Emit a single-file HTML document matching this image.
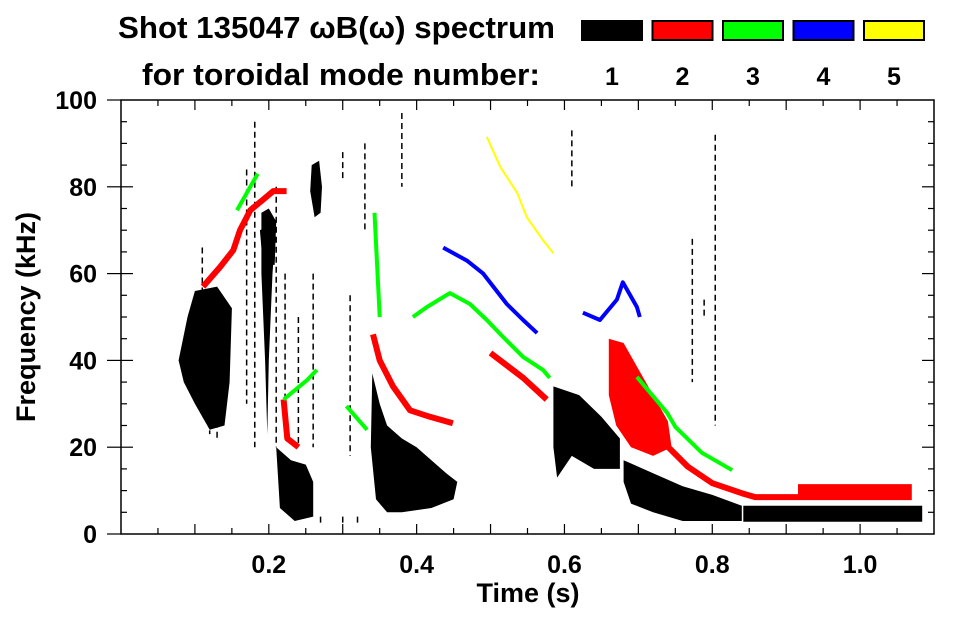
<!DOCTYPE html>
<html><head><meta charset="utf-8"><style>
body{margin:0;background:#fff;width:963px;height:615px;overflow:hidden}
svg{font-family:"Liberation Sans",sans-serif;font-weight:bold}
</style></head><body>
<svg id="c" width="963" height="615" viewBox="0 0 963 615">
<text x="118" y="38" font-size="31" textLength="437" lengthAdjust="spacingAndGlyphs">Shot 135047 ωB(ω) spectrum</text>
<text x="142" y="85" font-size="31" textLength="398" lengthAdjust="spacingAndGlyphs">for toroidal mode number:</text>
<g id="legend"></g>
<g id="plot"></g>
<g id="axes"></g>
<text x="528" y="602" font-size="27" text-anchor="middle">Time (s)</text>
<text transform="translate(35,317) rotate(-90)" font-size="27" text-anchor="middle">Frequency (kHz)</text>
</svg>
<script>
const modes=['1','2','3','4','5'];
const modeColors=['#000','#f00','#0f0','#00f','#ff0'];
const xTicks=[0.2,0.4,0.6,0.8,1.0];
const xTickLabels=['0.2','0.4','0.6','0.8','1.0'];
const yTicks=[0,20,40,60,80,100];
const yTickLabels=['0','20','40','60','80','100'];
// black (n=1) regions as [time, kHz] outlines
const blackBlobs=[
[[.078,40],[.09,50],[.1,56],[.13,57],[.15,52],[.147,35],[.14,25],[.12,24],[.1,30],[.085,35]],
[[.19,74],[.2,75],[.21,72],[.205,60],[.2,40],[.198,23],[.195,40],[.19,60]],
[[.188,70],[.21,72],[.208,62],[.192,62]],
[[.21,20],[.23,17],[.25,16],[.26,12],[.26,4],[.235,3],[.215,6]],
[[.258,85],[.268,86],[.272,80],[.27,74],[.262,73],[.256,79]],
[[.34,37],[.35,30],[.36,25],[.38,22],[.40,20],[.42,17],[.44,14],[.455,12],[.45,8],[.42,6],[.38,5],[.36,5],[.345,8],[.338,20]],
[[.585,34],[.62,32],[.65,27],[.675,22],[.675,15],[.64,15],[.61,18],[.59,13],[.585,20]],
[[.68,17],[.72,14],[.76,11],[.8,9],[.84,6.5],[.84,3],[.8,3],[.76,3],[.72,5],[.69,7],[.68,12]],
[[.842,6.5],[1.084,6.5],[1.084,2.8],[.842,2.8]]
];
// thin black streaks: [time, fTop, fBottom]
const blackStreaks=[[.181,95,20],[.61,93,80],[.804,92,25],[.773,68,35],[.789,54,50],[.17,84,30],[.21,80,20],[.222,60,25],[.24,50,20],[.26,60,20],[.31,55,18],[.33,90,70],[.38,97,80],[.30,88,82],[.12,40,23],[.13,42,22],[.11,66,56],[.27,4,2],[.3,4,2.5],[.32,4,2.5]];
const redBlobs=[
[[.66,45],[.68,44],[.70,38],[.72,32],[.74,26],[.745,20],[.72,18],[.69,20],[.67,25],[.66,32]],
[[.916,11.5],[1.07,11.5],[1.07,7.8],[.916,7.8]]
];
const redRidges=[
[[.111,57],[.134,61.5],[.152,65.4],[.161,70],[.175,74.6],[.192,77],[.206,79],[.224,79]],
[[.341,46],[.35,40],[.368,34],[.391,28.5],[.418,27],[.449,25.5]],
[[.22,31],[.225,22],[.24,20]],
[[.5,41.7],[.544,36],[.576,31]],
[[.723,23],[.767,15.5],[.8,11.7],[.84,9.4],[.858,8.5],[.916,8.5]]
];
const greenRidges=[
[[.157,74.6],[.175,80],[.185,83]],
[[.22,31],[.252,35.5],[.265,37.8]],
[[.305,29.5],[.333,24]],
[[.343,74],[.35,50]],
[[.395,50],[.414,52.3],[.445,55.5],[.472,53],[.495,49.3],[.517,45.4],[.544,40.8],[.571,37.8],[.58,36]],
[[.698,36.2],[.739,27.9],[.75,24.7],[.786,18.7],[.827,14.7]]
];
const blueRidges=[
[[.436,66],[.468,63],[.49,60],[.522,53],[.544,49.3],[.563,46.3]],
[[.625,51],[.648,49.3],[.671,54],[.679,58],[.698,52.3],[.702,50]]
];
const yellowRidges=[
[[.495,91.5],[.513,84.6],[.536,78.6],[.549,73],[.571,67.7],[.585,64.7]]
];
const X0=121,X1=934,Y0=534,Y1=100,TMAX=1.1,FMAX=100;
const sx=t=>X0+t/TMAX*(X1-X0);
const sy=f=>Y0-f/FMAX*(Y0-Y1);
const NS='http://www.w3.org/2000/svg';
function mk(tag,parent){const e=document.createElementNS(NS,tag);parent.appendChild(e);return e;}
const plot=document.getElementById('plot'),axes=document.getElementById('axes'),leg=document.getElementById('legend');
const pts=a=>a.map(p=>sx(p[0]).toFixed(1)+','+sy(p[1]).toFixed(1)).join(' ');
blackBlobs.forEach(b=>{const e=mk('polygon',plot);e.setAttribute('points',pts(b));e.setAttribute('fill','#000');

});
blackStreaks.forEach(s=>{const e=mk('line',plot);e.setAttribute('x1',sx(s[0]));e.setAttribute('x2',sx(s[0]));e.setAttribute('y1',sy(s[1]));e.setAttribute('y2',sy(s[2]));e.setAttribute('stroke','#000');e.setAttribute('stroke-width','1.5');e.setAttribute('stroke-dasharray','6 4');

});
redBlobs.forEach(b=>{const e=mk('polygon',plot);e.setAttribute('points',pts(b));e.setAttribute('fill','#f00');

});
function ridges(list,col,w,name){list.forEach(r=>{const e=mk('polyline',plot);e.setAttribute('points',pts(r));e.setAttribute('fill','none');e.setAttribute('stroke',col);e.setAttribute('stroke-width',w);e.setAttribute('stroke-linejoin','round');

});}
ridges(redRidges,'#f00',6,'mode-2-ridge');
ridges(greenRidges,'#0f0',4,'mode-3-ridge');
ridges(blueRidges,'#00f',4,'mode-4-ridge');
ridges(yellowRidges,'#ff0',2,'mode-5-ridge');
// frame
const fr=mk('rect',axes);fr.setAttribute('x',X0);fr.setAttribute('y',Y1);fr.setAttribute('width',X1-X0);fr.setAttribute('height',Y0-Y1);fr.setAttribute('fill','none');fr.setAttribute('stroke','#000');fr.setAttribute('stroke-width','1.5');


function tick(x1,y1,x2,y2){const e=mk('line',axes);e.setAttribute('x1',x1);e.setAttribute('y1',y1);e.setAttribute('x2',x2);e.setAttribute('y2',y2);e.setAttribute('stroke','#000');e.setAttribute('stroke-width','1.2');

}
for(let i=1;i<22;i++){const t=i*0.05,x=sx(t),L=(i%2==0)?10:6;tick(x,Y0,x,Y0-L);tick(x,Y1,x,Y1+L);}
for(let i=1;i<20;i++){const f=i*5,y=sy(f),L=(i%4==0)?12:6;tick(X0,y,X0+L,y);tick(X1,y,X1-L,y);}
yTicks.forEach((f,i)=>{tick(X0-14,sy(f),X0,sy(f));const e=mk('text',axes);e.setAttribute('x',97);e.setAttribute('y',sy(f)+9);e.setAttribute('font-size','25');e.setAttribute('text-anchor','end');e.textContent=yTickLabels[i];

});
xTicks.forEach((t,i)=>{const e=mk('text',axes);e.setAttribute('x',sx(t));e.setAttribute('y',573);e.setAttribute('font-size','25');e.setAttribute('text-anchor','middle');e.textContent=xTickLabels[i];

});
modes.forEach((m,i)=>{const x=582+i*70.5;const r=mk('rect',leg);r.setAttribute('x',x);r.setAttribute('y',21);r.setAttribute('width',60);r.setAttribute('height',19);r.setAttribute('fill',modeColors[i]);r.setAttribute('stroke','#000');r.setAttribute('stroke-width','2');


const t=mk('text',leg);t.setAttribute('x',x+30);t.setAttribute('y',85);t.setAttribute('font-size','25');t.setAttribute('text-anchor','middle');t.textContent=m;

});
</script>
</body></html>
